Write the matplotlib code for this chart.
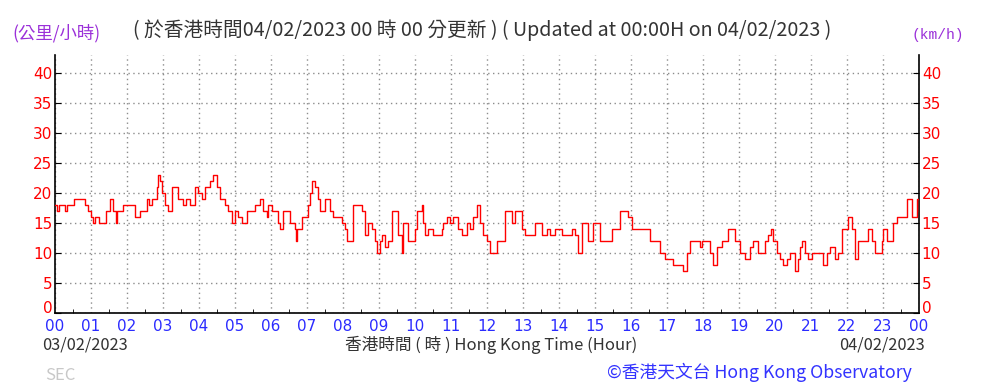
import matplotlib
matplotlib.use("Agg")
import matplotlib.pyplot as plt
from matplotlib.ticker import MultipleLocator

# ---- data: minutes after 00:00 on 03/02/2023, wind speed (km/h) ----
minutes = [0, 3, 7, 13, 17, 20, 28, 32, 47, 50, 55, 60, 63, 67, 70, 73, 80, 85, 92, 97,
           102, 103, 110, 113, 130, 133, 137, 142, 150, 153, 157, 162, 167, 170, 172, 175,
           178, 183, 188, 195, 202, 205, 213, 218, 225, 230, 233, 238, 245, 250, 258, 263,
           270, 275, 283, 288, 295, 300, 305, 312, 317, 320, 330, 333, 338, 342, 347, 353,
           355, 362, 367, 372, 375, 380, 388, 392, 395, 400, 402, 403, 408, 412, 420, 422,
           425, 428, 433, 438, 442, 447, 450, 455, 458, 463, 470, 475, 478, 483, 487, 492,
           497, 505, 512, 517, 522, 528, 533, 537, 542, 545, 550, 555, 562, 567, 572, 578,
           580, 587, 588, 595, 600, 603, 608, 612, 613, 617, 620, 622, 628, 630, 642, 645,
           647, 653, 658, 663, 667, 672, 678, 687, 692, 697, 703, 708, 713, 720, 725, 730,
           737, 742, 747, 750, 755, 762, 767, 772, 778, 783, 795, 800, 805, 812, 820, 825,
           833, 838, 845, 858, 862, 867, 872, 878, 883, 888, 892, 897, 903, 908, 917, 925,
           928, 937, 942, 950, 955, 962, 967, 972, 987, 992, 1000, 1008, 1013, 1017, 1025,
           1030, 1042, 1047, 1053, 1058, 1072, 1075, 1078, 1087, 1092, 1097, 1103, 1108,
           1112, 1120, 1122, 1128, 1133, 1142, 1150, 1158, 1163, 1167, 1172, 1180, 1183,
           1188, 1193, 1197, 1203, 1208, 1213, 1220, 1225, 1233, 1238, 1242, 1245, 1250,
           1255, 1262, 1267, 1275, 1280, 1287, 1292, 1300, 1305, 1312, 1317, 1322, 1328,
           1333, 1338, 1345, 1350, 1355, 1362, 1367, 1372, 1378, 1380, 1387, 1392, 1397,
           1403, 1412, 1420, 1428, 1437, 1440]
speed_kmh = [18, 17, 18, 18, 17, 18, 18, 19, 19, 18, 17, 16, 15, 16, 16, 15, 15, 17, 19, 17,
             15, 17, 17, 18, 18, 16, 16, 17, 17, 19, 18, 19, 19, 21, 23, 22,
             20, 18, 17, 21, 21, 19, 18, 19, 18, 18, 21, 20, 19, 21, 22, 23,
             21, 19, 18, 17, 15, 17, 16, 15, 15, 17, 17, 18, 18, 19, 17, 16,
             18, 17, 17, 15, 14, 17, 17, 15, 15, 14, 12, 14, 14, 16, 16, 18,
             20, 22, 21, 19, 17, 17, 19, 19, 17, 16, 16, 16, 15, 14, 12, 12,
             18, 18, 17, 13, 15, 14, 12, 10, 12, 13, 11, 12, 17, 17, 13, 10,
             15, 15, 12, 12, 14, 17, 17, 18, 15, 13, 13, 14, 14, 13, 13, 14,
             15, 16, 15, 16, 16, 14, 13, 15, 14, 16, 18, 15, 13, 12, 10, 10,
             12, 12, 12, 17, 17, 15, 17, 17, 14, 13, 13, 15, 15, 13, 14, 13,
             14, 14, 13, 13, 14, 13, 10, 15, 15, 12, 12, 15, 15, 12, 12, 12,
             14, 14, 17, 17, 16, 14, 14, 14, 14, 12, 12, 10, 10, 9, 9,
             8, 8, 7, 10, 12, 12, 11, 12, 12, 10, 8, 11, 11,
             12, 12, 14, 14, 12, 10, 9, 11, 12, 12, 10, 10, 12,
             13, 14, 12, 10, 9, 8, 9, 10, 7, 9, 11, 12, 10,
             9, 10, 10, 10, 8, 10, 11, 9, 10, 14, 14, 16, 14,
             9, 12, 12, 12, 14, 12, 10, 10, 12, 14, 12, 12, 15,
             16, 16, 19, 16, 19, 17]
hour_labels = ["00", "01", "02", "03", "04", "05", "06", "07", "08", "09", "10", "11",
               "12", "13", "14", "15", "16", "17", "18", "19", "20", "21", "22", "23", "00"]
speed_ticks = [0, 5, 10, 15, 20, 25, 30, 35, 40]

W, H = 983, 388
fig = plt.figure(figsize=(W / 100, H / 100), dpi=100)
fig.patch.set_facecolor("white")

left, right, bottom, top = 55, 919, 313, 55
ax = fig.add_axes([left / W, 1 - bottom / H, (right - left) / W, (bottom - top) / H])

hours = [m / 60 for m in minutes]
ax.plot(hours, speed_kmh, color="#ff0000", lw=1.0, drawstyle="steps-post", zorder=3)

ax.set_xlim(0, 24)
ax.set_ylim(0, 43)

ax.set_xticks(range(25))
ax.set_xticklabels(hour_labels)
ax.xaxis.set_minor_locator(MultipleLocator(0.5))
ax.set_yticks(speed_ticks)

ax.tick_params(axis="x", which="major", direction="in", length=0, pad=4,
               labelsize=11, labelcolor="#2b2bff")
ax.tick_params(axis="x", which="minor", direction="in", length=3, color="black")
ax.tick_params(axis="y", which="both", direction="in", length=4, pad=2,
               labelsize=11, labelcolor="#ff0000", left=True, right=True,
               labelleft=True, labelright=True)

fig.canvas.draw()
# keep the zero labels just above the hour labels
for t in ax.yaxis.get_major_ticks():
    if t.label1.get_text() == "0":
        t.label1.set_va("baseline")
        t.label2.set_va("baseline")

ax.grid(True, which="major", color="#8c8c8c", linestyle=(0, (1, 2.5)), lw=1.0)
ax.set_axisbelow(True)

ax.spines["top"].set_visible(False)
for s in ("left", "right", "bottom"):
    ax.spines[s].set_color("black")
    ax.spines[s].set_linewidth(1.2)

cjk = ["Noto Sans CJK TC", "DejaVu Sans"]

fig.text(133 / W, 1 - 30 / H,
         "( 於香港時間04/02/2023 00 時 00 分更新 ) ( Updated at 00:00H on 04/02/2023 )",
         family=cjk, fontsize=14.2, color="#333333", ha="left", va="center")
fig.text(12 / W, 1 - 33 / H, "(公里/小時)", family=cjk, fontsize=12.5,
         color="#9b30d9", ha="left", va="center")
fig.text(912 / W, 1 - 35 / H, "(km/h)", family="Liberation Mono", fontsize=10.5,
         color="#9b30d9", ha="left", va="center")

fig.text(42 / W, 1 - 345 / H, "03/02/2023", family=cjk, fontsize=11.8,
         color="#333333", ha="left", va="center")
fig.text(925 / W, 1 - 345 / H, "04/02/2023", family=cjk, fontsize=11.8,
         color="#333333", ha="right", va="center")
fig.text(491 / W, 1 - 345 / H, "香港時間 ( 時 ) Hong Kong Time (Hour)", family=cjk,
         fontsize=12, color="#333333", ha="center", va="center")
fig.text(912 / W, 1 - 372 / H, "©香港天文台 Hong Kong Observatory", family=cjk,
         fontsize=12.8, color="#3333ff", ha="right", va="center")
fig.text(45 / W, 1 - 376 / H, "SEC", family=cjk, fontsize=12, color="#c8c8c8",
         ha="left", va="center")

fig.savefig("out.png", dpi=100)
